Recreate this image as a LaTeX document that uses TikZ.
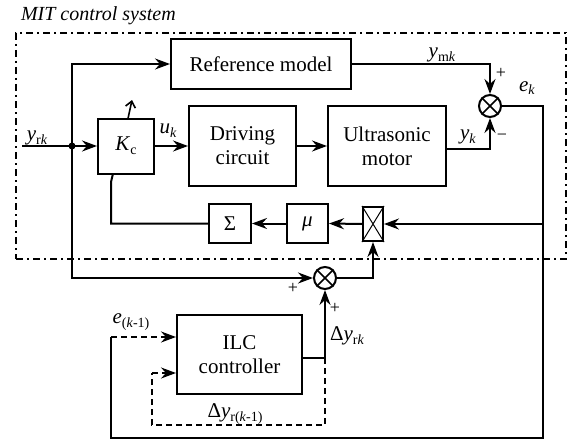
\documentclass[tikz,border=0pt]{standalone}
\usepackage{fontspec}
\setmainfont{Liberation Serif}
\usetikzlibrary{arrows.meta,calc}
\newcommand{\mysub}[1]{\raisebox{-0.4ex}{\fontsize{14}{14}\selectfont #1}}
\begin{document}
\begin{tikzpicture}[x=1pt,y=-1pt,line width=2pt,
  font=\fontsize{21}{24}\selectfont,
  blk/.style={draw,line width=2pt,align=center,inner sep=0pt},
  arr/.style={-{Stealth[length=15pt,width=11pt,inset=5pt]}},
  sumnode/.style={draw,circle,line width=2pt,minimum size=22pt,inner sep=0pt},
  lbl/.style={inner sep=0pt},
  dsh/.style={dash pattern=on 6pt off 4pt}]
\useasboundingbox (0,0) rectangle (570,439);
% border
\node[draw,line width=1.6pt,dash pattern=on 7pt off 4pt on 2pt off 4pt,minimum width=550pt,minimum height=226pt,inner sep=0pt] (mit) at (291,146) {};
\node[lbl,anchor=base west,font=\fontsize{20}{22}\selectfont\itshape] (title) at (20,20) {MIT control system};
% blocks
\node[blk,minimum width=180pt,minimum height=50pt] (ref) at (261,64) {Reference model};
\node[blk,minimum width=56pt,minimum height=55pt] (kc) at (126,146) {\textit{K}\mysub{c}};
\node[blk,minimum width=107pt,minimum height=80pt] (drv) at (242.5,146) {Driving\\circuit};
\node[blk,minimum width=118pt,minimum height=80pt] (mot) at (387,146) {Ultrasonic\\motor};
\node[blk,minimum width=42pt,minimum height=39pt] (sig) at (230,223.5) {Σ};
\node[blk,minimum width=41pt,minimum height=39pt] (mu) at (307.5,223.5) {\textit{μ}};
\node[blk,minimum width=20pt,minimum height=34pt] (sw) at (373,224) {};
\draw[line width=1pt] (sw.north west) -- (sw.south east) (sw.north east) -- (sw.south west);
\node[blk,minimum width=125pt,minimum height=79pt] (ilc) at (239.5,354.5) {ILC\\controller};
% summing junctions
\node[sumnode] (s1) at (490,106) {};
\draw[line width=1.5pt] (s1.north west) -- (s1.south east) (s1.north east) -- (s1.south west);
\node[sumnode] (s2) at (325,278) {};
\draw[line width=1.5pt] (s2.north west) -- (s2.south east) (s2.north east) -- (s2.south west);
% coordinates
\coordinate (in) at (22,146);
\coordinate (jn) at (72,146);
\coordinate (ecol) at (543,106);
\coordinate (eb) at (543,438);
\coordinate (lb) at (111,438);
\coordinate (lt) at (111,337);
\coordinate (fb) at (543,224);
\coordinate (kb1) at (111,223.5);
\coordinate (kb2) at (111,182);
\coordinate (kb3) at (113,173.5);
\coordinate (kt1) at (128,118.5);
\coordinate (kt2) at (132,100);
\coordinate (iout) at (325,358);
\coordinate (d1) at (325,425);
\coordinate (d2) at (152,425);
\coordinate (d3) at (152,373);
% connectors
\draw[arr] (in) -- (kc.west);
\fill (jn) circle (3.5pt);
\draw[arr] (jn) |- (ref.west);
\draw[arr] (jn) |- (s2.west);
\draw[arr] (kc.east) -- (drv.west);
\draw[arr] (drv.east) -- (mot.west);
\draw[arr] (ref.east) -| (s1.north);
\draw[arr] ($(mot.east)+(0,3)$) -| (s1.south);
\draw (s1.east) -- (ecol) -- (eb) -- (lb) -- (lt);
\draw[arr,dsh] (lt) -- (lt -| ilc.west);
\draw[arr] (fb) -- (sw.east);
\draw[arr] (sw.west) -- (mu.east);
\draw[arr] (mu.west) -- (sig.east);
\draw (sig.west) -- (kb1) -- (kb2) -- (kb3);
\draw[-{Straight Barb[length=6pt,width=10pt]},line width=1.6pt] (kt1) -- (kt2);
\draw[arr] (s2.east) -| (sw.south);
\draw[arr] (iout -| ilc.east) -- (iout) -- (s2.south);
\draw[dsh] (iout) -- (d1) -- (d2) -- (d3);
\draw[arr,dsh] (d3) -- (d3 -| ilc.west);
% labels
\node[lbl] (lyrk) at (37,138) {\textit{y}\mysub{r\textit{k}}};
\node[lbl] (luk) at (168,131) {\textit{u}\mysub{\textit{k}}};
\node[lbl] (lymk) at (442,55) {\textit{y}\mysub{m\textit{k}}};
\node[lbl,font=\fontsize{18}{18}\selectfont] (lp1) at (501,73) {+};
\node[lbl] (lek) at (527,88) {\textit{e}\mysub{\textit{k}}};
\node[lbl] (lyk) at (468,137) {\textit{y}\mysub{\textit{k}}};
\node[lbl,font=\fontsize{18}{18}\selectfont] (lm1) at (502,137) {−};
\node[lbl,font=\fontsize{18}{18}\selectfont] (lp2) at (293,288) {+};
\node[lbl,font=\fontsize{18}{18}\selectfont] (lp3) at (335,308) {+};
\node[lbl] (ldyrk) at (347,336) {Δ\textit{y}\mysub{r\textit{k}}};
\node[lbl] (lek1) at (131,322) {\textit{e}\mysub{(\textit{k}-1)}};
\node[lbl] (ldyrk1) at (235,414) {Δ\textit{y}\mysub{r(\textit{k}-1)}};
\end{tikzpicture}
\end{document}
